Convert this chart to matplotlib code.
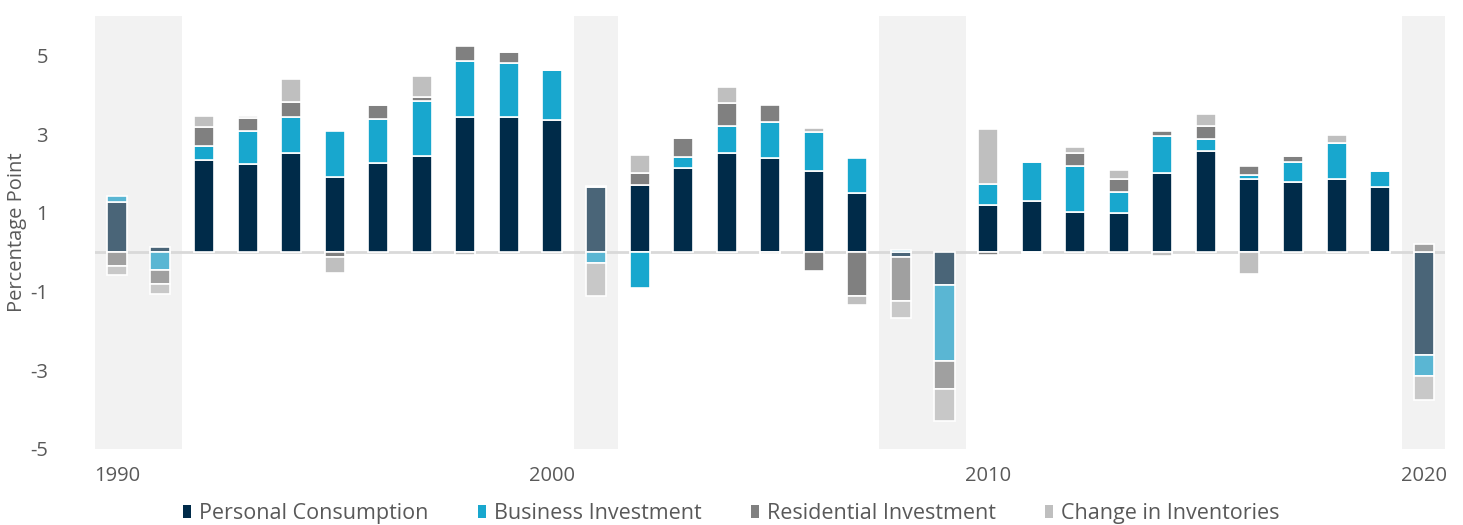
import numpy as np
import matplotlib.pyplot as plt
from matplotlib.patches import Patch

plt.rcParams['font.family'] = ['Open Sans', 'DejaVu Sans']
plt.rcParams['axes.unicode_minus'] = False

years = np.arange(1990, 2021)
personal = [1.28, 0.12, 2.35, 2.24, 2.51, 1.90, 2.26, 2.45, 3.43, 3.43,
            3.35, 1.66, 1.70, 2.14, 2.53, 2.40, 2.06, 1.50, -0.11, -0.83,
            1.20, 1.30, 1.02, 1.00, 2.00, 2.56, 1.87, 1.79, 1.86, 1.65,
            -2.62]
business = [0.14, -0.45, 0.34, 0.83, 0.92, 1.17, 1.13, 1.39, 1.43, 1.37,
            1.29, -0.28, -0.91, 0.29, 0.68, 0.91, 1.00, 0.88, 0.06, -1.93,
            0.52, 1.00, 1.17, 0.52, 0.96, 0.32, 0.08, 0.49, 0.92, 0.40,
            -0.53]
residential = [-0.35, -0.35, 0.49, 0.33, 0.38, -0.12, 0.35, 0.10, 0.39, 0.28,
               0.00, 0.02, 0.31, 0.47, 0.57, 0.42, -0.48, -1.11, -1.12, -0.72,
               -0.06, 0.00, 0.32, 0.35, 0.11, 0.33, 0.23, 0.16, 0.00, -0.03,
               0.22]
inventories = [-0.22, -0.25, 0.29, 0.07, 0.60, -0.42, 0.00, 0.53, -0.07, 0.00,
               0.00, -0.84, 0.47, 0.00, 0.41, -0.04, 0.10, -0.22, -0.43, -0.82,
               1.42, -0.03, 0.17, 0.23, -0.09, 0.31, -0.55, 0.00, 0.19, 0.00,
               -0.60]
recession_years = [1990, 1991, 2001, 2008, 2009, 2020]

labels = ['Personal Consumption', 'Business Investment',
          'Residential Investment', 'Change in Inventories']
series = [personal, business, residential, inventories]
colors = ['#002b49', '#18a7ce', '#808080', '#bfbfbf']
colors_rec = ['#4a6578', '#5ab6d3', '#a0a0a0', '#c8c8c8']

fig = plt.figure(figsize=(14.63, 5.25), dpi=100)
ax = fig.add_axes([0.065, 0.1448, 0.923, 0.8247])

# recession shading
for y in recession_years:
    ax.axvspan(y - 0.5, y + 0.5, color='#f2f2f2', lw=0, zorder=0)

pos_bottom = np.zeros(len(years))
neg_bottom = np.zeros(len(years))
for k, vals in enumerate(series):
    vals = np.array(vals)
    bottom = np.where(vals >= 0, pos_bottom, neg_bottom)
    cols = [colors_rec[k] if y in recession_years else colors[k] for y in years]
    ax.bar(years, vals, 0.46, bottom=bottom, color=cols,
           edgecolor='white', linewidth=1.2, zorder=2)
    pos_bottom += np.where(vals >= 0, vals, 0)
    neg_bottom += np.where(vals < 0, vals, 0)

ax.axhline(0, color='#d9d9d9', lw=2, zorder=1)

ax.set_xlim(1989.5, 2020.5)
ax.set_ylim(-5, 6)
ax.set_yticks([5, 3, 1, -1, -3, -5])
ax.set_xticks([1990, 2000, 2010, 2020])
for s in ax.spines.values():
    s.set_visible(False)
ax.tick_params(axis='both', length=0, labelsize=14.5, labelcolor='#595959')
ax.tick_params(axis='y', pad=34)
ax.tick_params(axis='x', pad=12)
ax.set_ylabel('Percentage Point', fontsize=14.5, color='#595959')
ax.yaxis.set_label_coords(-0.0505, 0.5)

handles = [Patch(facecolor=c, edgecolor='none') for c in colors]
fig.legend(handles, labels, loc='lower center', ncol=4, frameon=False,
           fontsize=15.5, labelcolor='#595959', handlelength=0.37,
           handleheight=0.6, handletextpad=0.37, columnspacing=2.3,
           bbox_to_anchor=(0.5, -0.035))

fig.savefig('out.png', dpi=100)
